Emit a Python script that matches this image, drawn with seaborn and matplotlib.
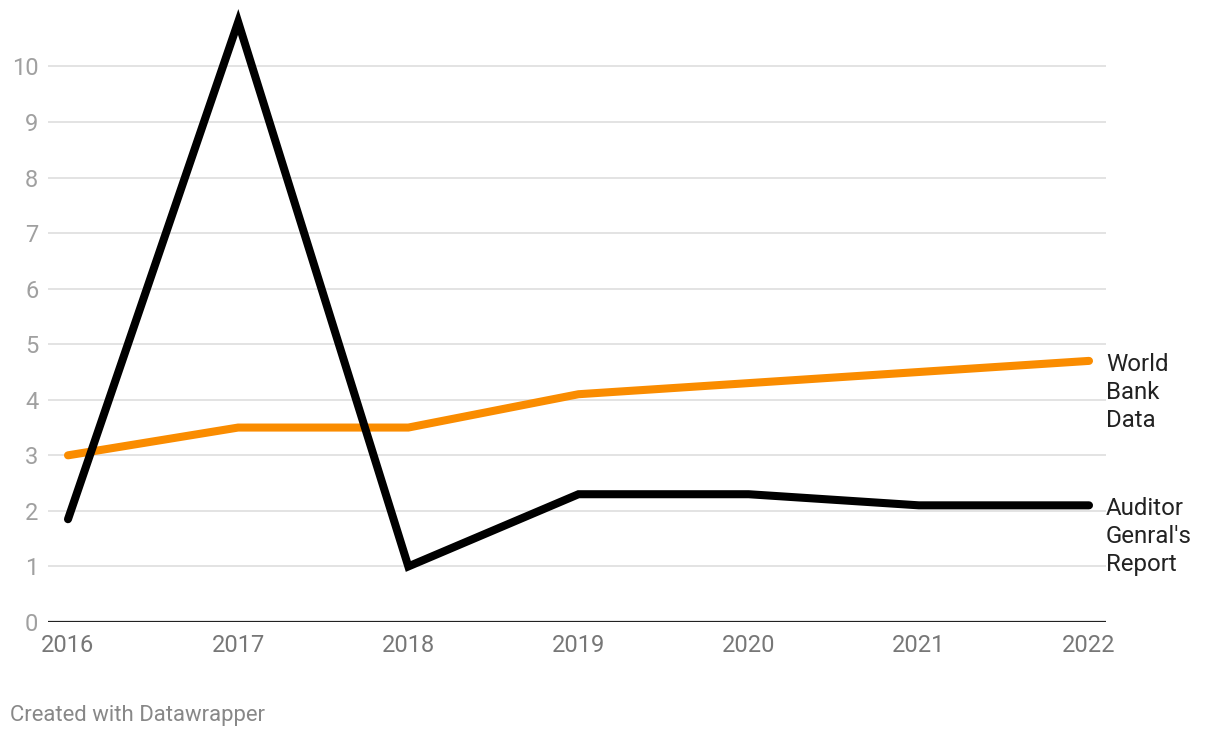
import seaborn as sns
import pandas as pd
import matplotlib.pyplot as plt

years = [2016, 2017, 2018, 2019, 2020, 2021, 2022]
world_bank = [3.0, 3.5, 3.5, 4.1, 4.3, 4.5, 4.7]
auditor_general = [1.85, 10.8, 1.0, 2.3, 2.3, 2.1, 2.1]
series_names = ["World Bank Data", "Auditor Genral's Report"]
end_labels = ["World\nBank\nData", "Auditor\nGenral's\nReport"]
colors = ["#fa8c00", "#000000"]

df = pd.DataFrame({
    "year": years * 2,
    "value": world_bank + auditor_general,
    "series": [series_names[0]] * len(years) + [series_names[1]] * len(years),
})

sns.set_theme(style="white")
plt.rcParams["font.family"] = ["Roboto", "DejaVu Sans"]

fig = plt.figure(figsize=(12.2, 7.38), dpi=100)
ax = fig.add_axes([48 / 1220, 1 - 622 / 738, (1106 - 48) / 1220, (622 - 22) / 738])

sns.lineplot(data=df, x="year", y="value", hue="series", hue_order=series_names,
             palette=colors, linewidth=5.8, ax=ax, legend=False,
             solid_capstyle="round", solid_joinstyle="miter")
for line in ax.lines:
    line.set_clip_on(False)
    line.set_zorder(3)

ax.set_xlim(2016 - 20 / 170.2, 2022 + 17 / 170.2)
ax.set_ylim(0, 10.8)
ax.set_yticks(range(0, 11))
ax.set_xticks(years)
ax.set_xlabel("")
ax.set_ylabel("")

for y in range(1, 11):
    ax.axhline(y, color="#e3e3e3", linewidth=1.4, zorder=1)
ax.axhline(0, color="#222222", linewidth=1.6, zorder=2)

for s in ax.spines.values():
    s.set_visible(False)

ax.tick_params(axis="y", length=0, pad=7, labelsize=17, labelcolor="#a0a0a0")
ax.tick_params(axis="x", length=0, pad=9, labelsize=17, labelcolor="#777777")
for lab in ax.get_yticklabels():
    lab.set_horizontalalignment("right")

last_vals = [world_bank[-1], auditor_general[-1]]
for label, val in zip(end_labels, last_vals):
    ax.annotate(label, xy=(1, val), xycoords=("axes fraction", "data"),
                xytext=(0, 8), textcoords="offset pixels",
                ha="left", va="top", fontsize=17.3, color="#222222",
                linespacing=1.28, annotation_clip=False)

fig.text(10 / 1220, 1 - 716 / 738, "Created with Datawrapper", ha="left", va="center",
         fontsize=15.9, color="#888888")

fig.savefig("out.png", dpi=100)
